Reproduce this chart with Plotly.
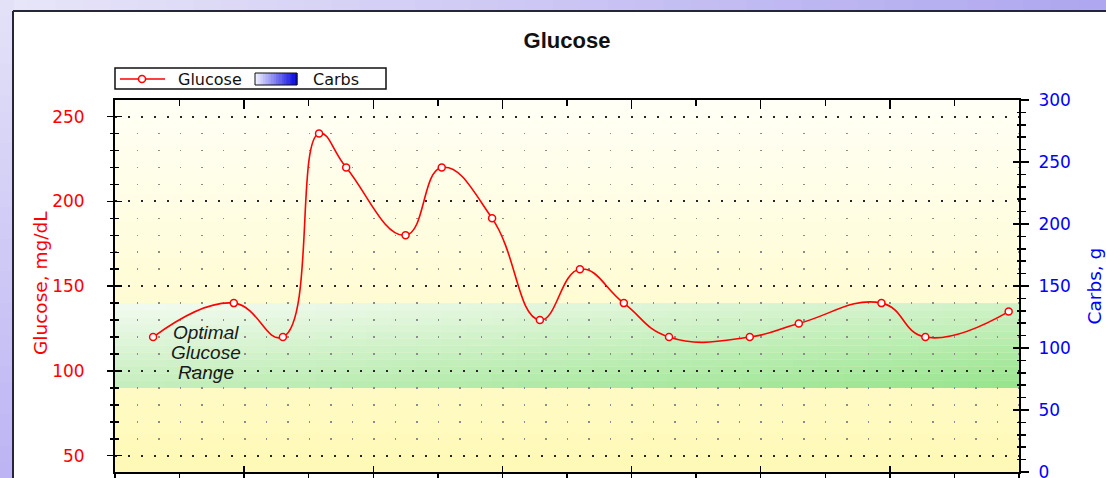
import plotly.graph_objects as go

# ---------------- data ----------------
time_h = [0.59, 1.84, 2.60, 3.16, 3.58, 4.50, 5.06, 5.84, 6.58, 7.20,
          7.88, 8.58, 9.83, 10.59, 11.87, 12.55, 13.84]
glucose = [120, 140, 120, 240, 220, 180, 220, 190, 130, 160,
           140, 120, 120, 128, 140, 120, 135]
carbs_time = []
carbs_g = []
optimal_range = [90, 140]
glucose_axis_range = [40.4, 259.8]
carbs_axis_range = [0, 300]
time_axis_range = [0, 14]
range_label_lines = ["Optimal", "Glucose", "Range"]

# ---------------- geometry ----------------
W, H = 1106, 478
PL, PR, PT, PB = 115, 1019, 100, 472


def pxx(x):
    return (x - PL) / (PR - PL)


def pxy(y):
    return (PB - y) / (PB - PT)


def hx(h):
    h = h.lstrip('#')
    return tuple(int(h[i:i + 2], 16) for i in (0, 2, 4))


def mix(c1, c2, t):
    a, b = hx(c1), hx(c2)
    return 'rgb(%d,%d,%d)' % tuple(round(a[i] + (b[i] - a[i]) * t) for i in range(3))


def bilin(tl, tr, bl, br, u, v):
    a = [hx(c) for c in (tl, tr, bl, br)]
    out = []
    for i in range(3):
        top = a[0][i] + (a[1][i] - a[0][i]) * u
        bot = a[2][i] + (a[3][i] - a[2][i]) * u
        out.append(round(top + (bot - top) * v))
    return 'rgb(%d,%d,%d)' % tuple(out)


shapes = []

# outer lavender frame (gradient)
n = 40
for i in range(n):
    x0 = W * i / n
    x1 = W * (i + 1) / n + 1
    shapes.append(dict(type='rect', xref='paper', yref='paper', layer='below',
                       x0=pxx(x0), x1=pxx(x1), y0=pxy(12), y1=pxy(-2),
                       fillcolor=mix('#E8E6F8', '#AEA6EF', (i + 0.5) / n), line_width=0))
n = 30
for i in range(n):
    y0 = H * i / n
    y1 = H * (i + 1) / n + 1
    shapes.append(dict(type='rect', xref='paper', yref='paper', layer='below',
                       x0=pxx(-2), x1=pxx(14), y0=pxy(y1), y1=pxy(y0),
                       fillcolor=mix('#E4E2F8', '#BCB4F3', (i + 0.5) / n), line_width=0))
# white panel
shapes.append(dict(type='rect', xref='paper', yref='paper', layer='below',
                   x0=pxx(13), x1=pxx(W + 10), y0=pxy(H + 10), y1=pxy(11),
                   fillcolor='white', line_width=0))
shapes.append(dict(type='line', xref='paper', yref='paper', layer='below',
                   x0=pxx(13), x1=pxx(W + 10), y0=pxy(11), y1=pxy(11),
                   line=dict(color='#26263a', width=2)))
shapes.append(dict(type='line', xref='paper', yref='paper', layer='below',
                   x0=pxx(13), x1=pxx(13), y0=pxy(H + 10), y1=pxy(11),
                   line=dict(color='#26263a', width=2)))

# plot area vertical gradient
n = 40
for i in range(n):
    shapes.append(dict(type='rect', xref='paper', yref='paper', layer='below',
                       x0=0, x1=1, y0=1 - (i + 1) / n - 0.002, y1=1 - i / n,
                       fillcolor=mix('#FFFFF6', '#FFF9B6', (i + 0.5) / n), line_width=0))

# optimal range band with diagonal gradient
nc, nr = 36, 12
lo, hi = optimal_range
x_lo, x_hi = time_axis_range
for i in range(nc):
    for j in range(nr):
        u = (i + 0.5) / nc
        v = (j + 0.5) / nr
        shapes.append(dict(type='rect', xref='x', yref='y', layer='below',
                           x0=x_lo + (x_hi - x_lo) * i / nc,
                           x1=x_lo + (x_hi - x_lo) * (i + 1) / nc + 0.01,
                           y1=hi - (hi - lo) * j / nr,
                           y0=hi - (hi - lo) * (j + 1) / nr - 0.05,
                           fillcolor=bilin('#F4FBF2', '#D0F2C8', '#C4EEBC', '#96E48C', u, v),
                           line_width=0))

# legend (drawn by hand)
shapes.append(dict(type='rect', xref='paper', yref='paper', layer='above',
                   x0=pxx(115), x1=pxx(386), y0=pxy(89), y1=pxy(68),
                   fillcolor='white', line=dict(color='#111', width=1.5)))
shapes.append(dict(type='line', xref='paper', yref='paper', layer='above',
                   x0=pxx(120), x1=pxx(165), y0=pxy(79), y1=pxy(79),
                   line=dict(color='#FF0000', width=1.6)))
shapes.append(dict(type='circle', xref='paper', yref='paper', layer='above',
                   xsizemode='pixel', ysizemode='pixel', xanchor=pxx(142), yanchor=pxy(79),
                   x0=-3.5, x1=3.5, y0=-3.5, y1=3.5,
                   fillcolor='white', line=dict(color='#FF0000', width=1.5)))
n = 16
for i in range(n):
    x0 = 255 + 42 * i / n
    x1 = 255 + 42 * (i + 1) / n + 0.5
    shapes.append(dict(type='rect', xref='paper', yref='paper', layer='above',
                       x0=pxx(x0), x1=pxx(x1), y0=pxy(85), y1=pxy(73),
                       fillcolor=mix('#F4F4FF', '#0000E0', (i + 0.5) / n), line_width=0))
shapes.append(dict(type='rect', xref='paper', yref='paper', layer='above',
                   x0=pxx(255), x1=pxx(297), y0=pxy(85), y1=pxy(73),
                   line=dict(color='#111', width=1)))

annotations = [
    dict(text='Glucose', xref='paper', yref='paper', x=pxx(176), y=pxy(79.5),
         xanchor='left', yanchor='middle', showarrow=False,
         font=dict(family='DejaVu Sans', size=16, color='#111')),
    dict(text='Carbs', xref='paper', yref='paper', x=pxx(311), y=pxy(79.5),
         xanchor='left', yanchor='middle', showarrow=False,
         font=dict(family='DejaVu Sans', size=16, color='#111')),
    # left axis title
    dict(text='Glucose, mg/dL', xref='paper', yref='paper', x=pxx(40), y=pxy(283),
         xanchor='center', yanchor='middle', textangle=-90, showarrow=False,
         font=dict(family='DejaVu Sans', size=18.5, color='#FF0000')),
]
label_y = [122.4, 110.6, 98.8]
for t, yy in zip(range_label_lines, label_y):
    annotations.append(dict(text='<i>%s</i>' % t, xref='x', yref='y', x=1.41, y=yy,
                            xanchor='center', yanchor='middle', showarrow=False,
                            font=dict(family='Liberation Sans', size=19, color='#1a1a1a')))

# ---------------- traces ----------------
fig = go.Figure()
fig.add_trace(go.Scatter(
    x=time_h, y=glucose, name='Glucose', mode='lines+markers',
    line=dict(color='#FF0000', width=1.6, shape='spline', smoothing=1.3),
    marker=dict(symbol='circle', size=7, color='white',
                line=dict(color='#FF0000', width=1.5)),
    xaxis='x', yaxis='y', showlegend=False, hoverinfo='skip'))
fig.add_trace(go.Bar(x=carbs_time, y=carbs_g, name='Carbs', marker_color='#0000E0',
                     xaxis='x', yaxis='y2', showlegend=False))
for xa, ya in [('x2', 'y'), ('x3', 'y'), ('x', 'y3'), ('x', 'y4')]:
    fig.add_trace(go.Scatter(x=[], y=[], xaxis=xa, yaxis=ya, showlegend=False))

common = dict(showgrid=False, zeroline=False, automargin=False, fixedrange=True,
              tickcolor='black', tickwidth=1.5, linecolor='black', linewidth=2)

fig.update_layout(
    template='none',
    width=W, height=H,
    margin=dict(l=PL, r=W - PR, t=PT, b=H - PB, pad=0),
    paper_bgcolor='#D6D2F6', plot_bgcolor='rgba(0,0,0,0)',
    font=dict(family='DejaVu Sans', color='#111'),
    showlegend=False,
    hovermode=False,
    title=dict(text='<b>Glucose</b>', x=0.5, xref='paper', xanchor='center',
               y=1 - 40 / H, yref='container', yanchor='middle',
               font=dict(family='Liberation Sans', size=22, color='#111')),
    xaxis=dict(range=time_axis_range, side='bottom', anchor='y', showline=True,
               ticks='outside', ticklen=6, dtick=2, tick0=0, showticklabels=False,
               minor=dict(dtick=1, ticks='outside', ticklen=5, tickcolor='black',
                          tickwidth=1.5, showgrid=False),
               **common),
    xaxis2=dict(range=time_axis_range, side='top', anchor='y', overlaying='x',
                showline=True, ticks='inside', ticklen=9, dtick=2, tick0=0,
                showticklabels=False,
                minor=dict(dtick=1, ticks='inside', ticklen=6, tickcolor='black',
                           tickwidth=1.5, showgrid=False),
                **common),
    xaxis3=dict(range=time_axis_range, side='bottom', anchor='y', overlaying='x',
                showline=False, ticks='inside', ticklen=6, dtick=2, tick0=0,
                showticklabels=False, **common),
    yaxis=dict(range=glucose_axis_range, side='left', anchor='x', showline=True,
               ticks='outside', ticklen=6, dtick=50, tick0=0,
               tickfont=dict(family='DejaVu Sans', size=17, color='#FF0000'),
               ticklabelstandoff=19,
               minor=dict(dtick=10, ticks='outside', ticklen=3, tickcolor='black',
                          tickwidth=1.5, showgrid=True, gridcolor='#8c8c8c',
                          gridwidth=1.6, griddash='1.6px,19.9px'),
               **{**common, 'showgrid': True},
               gridcolor='#262626', gridwidth=2, griddash='2px,10.9px'),
    yaxis3=dict(range=glucose_axis_range, side='left', anchor='x', overlaying='y',
                showline=False, ticks='inside', ticklen=7, dtick=50, tick0=0,
                showticklabels=False,
                minor=dict(dtick=10, ticks='inside', ticklen=4, tickcolor='black',
                           tickwidth=1.5, showgrid=False),
                **common),
    yaxis2=dict(range=carbs_axis_range, side='right', anchor='x', overlaying='y',
                showline=True, ticks='outside', ticklen=8, dtick=50, tick0=0,
                tickfont=dict(family='DejaVu Sans', size=17, color='#0000FF'),
                ticklabelstandoff=6, ticklabeloverflow='allow',
                title=dict(text='Carbs, g', standoff=18,
                           font=dict(family='DejaVu Sans', size=18.5, color='#0000FF')),
                minor=dict(dtick=10, ticks='outside', ticklen=5, tickcolor='black',
                           tickwidth=1.5, showgrid=False),
                **common),
    yaxis4=dict(range=carbs_axis_range, side='right', anchor='x', overlaying='y',
                showline=False, ticks='inside', ticklen=6, dtick=50, tick0=0,
                showticklabels=False,
                minor=dict(dtick=10, ticks='inside', ticklen=2, tickcolor='black',
                           tickwidth=1.5, showgrid=False),
                **common),
    shapes=shapes,
    annotations=annotations,
)

fig.write_html('out.html',
               config={'displayModeBar': False, 'staticPlot': True},
               post_script="document.body.style.margin='0';"
                           "document.body.style.overflow='hidden';")
